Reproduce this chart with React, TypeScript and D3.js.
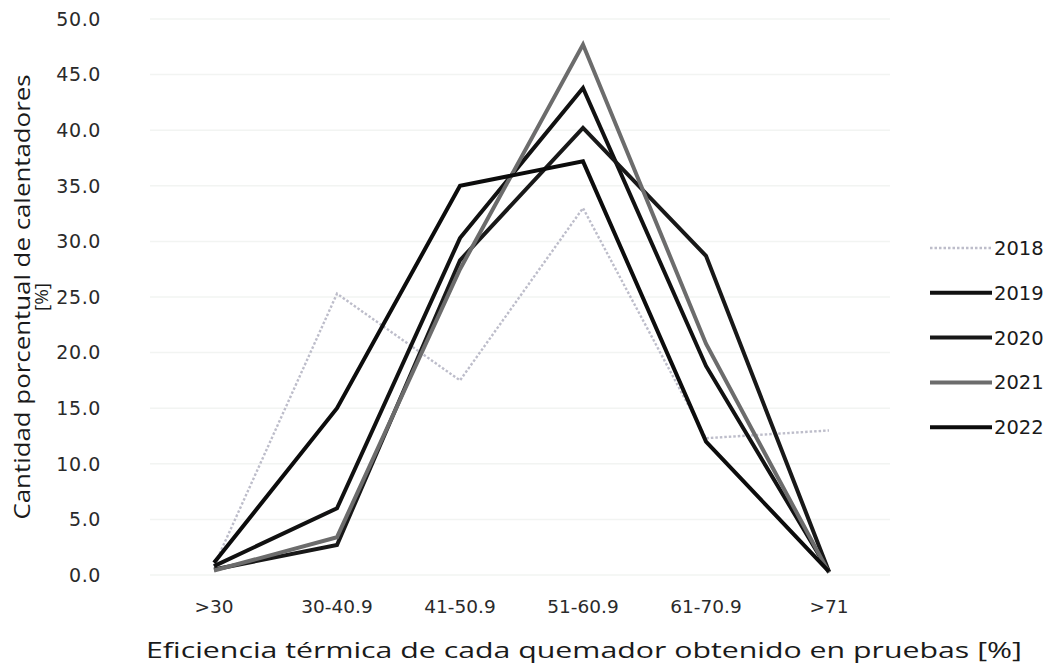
import React from "react";
import * as d3 from "d3";

const categories = [">30", "30-40.9", "41-50.9", "51-60.9", "61-70.9", ">71"];
const years = ["2018", "2019", "2020", "2021", "2022"];
const s2018 = [0.8, 25.3, 17.5, 33.0, 12.3, 13.0];
const s2019 = [0.8, 6.0, 30.3, 43.8, 18.8, 0.3];
const s2020 = [0.5, 2.7, 28.3, 40.2, 28.7, 0.3];
const s2021 = [0.4, 3.4, 27.5, 47.7, 20.8, 0.2];
const s2022 = [1.1, 15.0, 35.0, 37.2, 12.0, 0.3];
const seriesValues = [s2018, s2019, s2020, s2021, s2022];
const yTicks = [0, 5, 10, 15, 20, 25, 30, 35, 40, 45, 50];

const styles = [
  { color: "#bdbdca", width: 2.4, dash: "2.5,2" },
  { color: "#111111", width: 4, dash: "" },
  { color: "#181818", width: 4, dash: "" },
  { color: "#6c6c6c", width: 4, dash: "" },
  { color: "#0c0c0c", width: 4, dash: "" },
];

const FONT = "'DejaVu Sans', 'Noto Sans', sans-serif";
const TFONT = "'Open Sans', 'Noto Sans', sans-serif";

export default function App() {
  const W = 1054, H = 671;
  const xs = d3.scalePoint<string>().domain(categories).range([152.5, 890.5]).padding(0.5);
  const y = d3.scaleLinear().domain([0, 50]).range([575, 19]);
  const line = d3.line<number>().x((_, i) => xs(categories[i]) as number).y((d) => y(d));

  return (
    <svg width={W} height={H} style={{ position: "absolute", left: 0, top: 0, background: "#fff" }}>
      <rect x={0} y={0} width={W} height={H} fill="#fff" />
      {yTicks.map((t) => (
        <line key={"g" + t} x1={150} x2={890} y1={y(t)} y2={y(t)} stroke="#f2f4f2" strokeWidth={1.5} />
      ))}
      {yTicks.map((t) => (
        <text key={"yt" + t} x={101} y={y(t)} dy="0.36em" textAnchor="end" fontFamily={FONT} fontSize={19} letterSpacing={0.6} fill="#2a2a2a">
          {t.toFixed(1)}
        </text>
      ))}
      {categories.map((c) => (
        <text key={"xt" + c} x={xs(c)} y={606} dy="0.36em" textAnchor="middle" fontFamily={FONT} fontSize={18.5} fill="#2a2a2a">
          {c}
        </text>
      ))}
      {seriesValues.map((vals, i) => (
        <path
          key={"s" + i}
          d={line(vals) as string}
          fill="none"
          stroke={styles[i].color}
          strokeWidth={styles[i].width}
          strokeDasharray={styles[i].dash || undefined}
          strokeLinejoin="miter"
        />
      ))}
      {years.map((yr, i) => {
        const ly = 248 + i * 44.8;
        return (
          <g key={"l" + yr}>
            <line x1={930} x2={992} y1={ly} y2={ly} stroke={styles[i].color} strokeWidth={styles[i].width} strokeDasharray={styles[i].dash || undefined} />
            <text x={994} y={ly} dy="0.36em" fontFamily={FONT} fontSize={19.5} fill="#1a1a1a">
              {yr}
            </text>
          </g>
        );
      })}
      <text
        transform="translate(30,297) rotate(-90)"
        textAnchor="middle"
        fontFamily={TFONT}
        fontSize={21}
        fill="#1a1a1a"
        textLength={445}
        lengthAdjust="spacingAndGlyphs"
      >
        Cantidad porcentual de calentadores
      </text>
      <text transform="translate(48,297) rotate(-90)" textAnchor="middle" fontFamily={TFONT} fontSize={19} fill="#1a1a1a">
        [%]
      </text>
      <text
        x={584}
        y={658}
        textAnchor="middle"
        fontFamily={TFONT}
        fontSize={21}
        fill="#1a1a1a"
        textLength={876}
        lengthAdjust="spacingAndGlyphs"
      >
        Eficiencia térmica de cada quemador obtenido en pruebas [%]
      </text>
    </svg>
  );
}
